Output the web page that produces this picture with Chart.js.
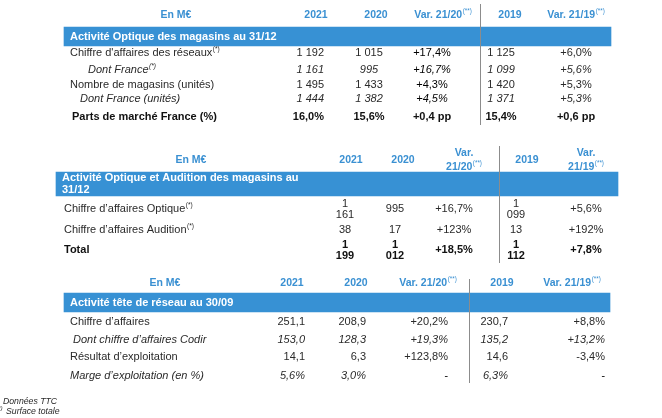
<!DOCTYPE html>
<html lang="fr">
<head>
<meta charset="utf-8">
<title>Activité des magasins</title>
<script src="https://cdn.jsdelivr.net/npm/chart.js@4.4.1/dist/chart.umd.min.js"></script>
<style>
  html, body { margin: 0; padding: 0; background: #fff; }
  #wrap { width: 662px; height: 418px; }
</style>
</head>
<body>
<div id="wrap"><canvas id="table" width="662" height="418"></canvas></div>
<script>
// headers shared by the three blocks
var unitLabel = 'En M€';
var colHeads = ['2021', '2020', 'Var. 21/20', '2019', 'Var. 21/19'];
var colNotes = ['', '', '(**)', '', '(**)'];

// bloc 1 - optique
var t1Title = 'Activité Optique des magasins au 31/12';
var t1Rows = ['Chiffre d\'affaires des réseaux', 'Dont France', 'Nombre de magasins (unités)', 'Dont France (unités)', 'Parts de marché France (%)'];
var t1Notes = ['(*)', '(*)', '', '', ''];
var t1Y2021 = ['1 192', '1 161', '1 495', '1 444', '16,0%'];
var t1Y2020 = ['1 015', '995', '1 433', '1 382', '15,6%'];
var t1Var2120 = ['+17,4%', '+16,7%', '+4,3%', '+4,5%', '+0,4 pp'];
var t1Y2019 = ['1 125', '1 099', '1 420', '1 371', '15,4%'];
var t1Var2119 = ['+6,0%', '+5,6%', '+5,3%', '+5,3%', '+0,6 pp'];

// bloc 2 - optique et audition
var t2Title = 'Activité Optique et Audition des magasins au 31/12';
var t2Rows = ['Chiffre d’affaires Optique', 'Chiffre d’affaires Audition', 'Total'];
var t2Notes = ['(*)', '(*)', ''];
var t2Y2021 = ['1 161', '38', '1 199'];
var t2Y2020 = ['995', '17', '1 012'];
var t2Var2120 = ['+16,7%', '+123%', '+18,5%'];
var t2Y2019 = ['1 099', '13', '1 112'];
var t2Var2119 = ['+5,6%', '+192%', '+7,8%'];

// bloc 3 - tete de reseau
var t3Title = 'Activité tête de réseau au 30/09';
var t3Rows = ['Chiffre d’affaires', ' Dont chiffre d’affaires Codir', 'Résultat d’exploitation', 'Marge d’exploitation (en %)'];
var t3Notes = ['', '', '', ''];
var t3Y2021 = ['251,1', '153,0', '14,1', '5,6%'];
var t3Y2020 = ['208,9', '128,3', '6,3', '3,0%'];
var t3Var2120 = ['+20,2%', '+19,3%', '+123,8%', '-'];
var t3Y2019 = ['230,7', '135,2', '14,6', '6,3%'];
var t3Var2119 = ['+8,8%', '+13,2%', '-3,4%', '-'];

var footNotes = ['Données TTC', 'Surface totale'];
var footMarks = ['(*)', '(**)'];

var BLUE = '#3791d4';
var HEAD_BLUE = '#3a90d2';
var INK = '#2a2a2a';
var FONT = '"Liberation Sans", Arial, Helvetica, sans-serif';

// page layout, in canvas units
var blocks = [
    {
        title: t1Title, rows: t1Rows, notes: t1Notes,
        cols: [t1Y2021, t1Y2020, t1Var2120, t1Y2019, t1Var2119],
        headY: 15, unitX: 176, headX: [316, 376, 443, 510, 576], headWrap: false,
        band: { x0: 64, x1: 611, y: 36.5, h: 19 }, titleX: 70, titleWrap: 0,
        rowY: [53, 70, 84.5, 99, 117],
        labelX: [70, 88, 70, 80, 72],
        styles: ['normal', 'italic', 'normal', 'italic', 'bold'],
        valX: [324, 369, 432, 501, 576],
        valAlign: ['right', 'center', 'center', 'center', 'center'],
        valInk: [INK, INK, '#000000', INK, INK],
        valWrap: false,
        divider: { x: 480.5, y0: 4, y1: 125 }
    },
    {
        title: t2Title, rows: t2Rows, notes: t2Notes,
        cols: [t2Y2021, t2Y2020, t2Var2120, t2Y2019, t2Var2119],
        headY: 160, unitX: 191, headX: [351, 403, 464, 527, 586], headWrap: true,
        band: { x0: 56, x1: 618, y: 184, h: 24 }, titleX: 62, titleWrap: 250,
        rowY: [209, 230, 250],
        labelX: [64, 64, 64],
        styles: ['normal', 'normal', 'bold'],
        valX: [345, 395, 454, 516, 586],
        valAlign: ['center', 'center', 'center', 'center', 'center'],
        valInk: [INK, INK, INK, INK, INK],
        valWrap: true,
        divider: { x: 499.5, y0: 146, y1: 263 }
    },
    {
        title: t3Title, rows: t3Rows, notes: t3Notes,
        cols: [t3Y2021, t3Y2020, t3Var2120, t3Y2019, t3Var2119],
        headY: 283.5, unitX: 165, headX: [292, 356, 428, 502, 572], headWrap: false,
        band: { x0: 64, x1: 610, y: 302.5, h: 19 }, titleX: 70, titleWrap: 0,
        rowY: [322, 339.5, 357, 375.5],
        labelX: [70, 70, 70, 70],
        styles: ['normal', 'italic', 'normal', 'italic'],
        valX: [305, 366, 448, 508, 605],
        valAlign: ['right', 'right', 'right', 'right', 'right'],
        valInk: [INK, INK, INK, INK, INK],
        valWrap: false,
        divider: { x: 469.5, y0: 279, y1: 383 }
    }
];

function font(size, style) {
    var it = style === 'italic' ? 'italic ' : '';
    var bd = style === 'bold' ? 'bold ' : '';
    return it + bd + size + 'px ' + FONT;
}

// text with an optional raised note like (*)
function put(ctx, text, note, x, y, align, size, style, color) {
    ctx.font = font(size, style);
    var w = ctx.measureText(text).width;
    var noteFont = font(size * 0.6, style === 'bold' ? 'normal' : style);
    var nw = 0;
    if (note) {
        ctx.font = noteFont;
        nw = ctx.measureText(note).width + 0.5;
    }
    var left = x;
    if (align === 'right') left = x - w - nw;
    if (align === 'center') left = x - (w + nw) / 2;
    ctx.fillStyle = color;
    ctx.textAlign = 'left';
    ctx.textBaseline = 'middle';
    ctx.font = font(size, style);
    ctx.fillText(text, left, y);
    if (note) {
        ctx.font = noteFont;
        ctx.fillText(note, left + w + 0.5, y - 4);
    }
}

var tablePlugin = {
    id: 'tableText',
    afterDatasetsDraw: function (chart) {
        var ctx = chart.ctx;
        var sx = chart.scales.x, sy = chart.scales.y;
        var px = function (v) { return sx.getPixelForValue(v); };
        var py = function (v) { return sy.getPixelForValue(v); };
        ctx.save();

        blocks.forEach(function (b) {
            // column headers
            put(ctx, unitLabel, '', px(b.unitX), py(b.headY), 'center', 10.5, 'bold', HEAD_BLUE);
            colHeads.forEach(function (h, i) {
                if (b.headWrap && h.indexOf(' ') > 0) {
                    var parts = h.split(' ');
                    put(ctx, parts[0], '', px(b.headX[i]), py(b.headY - 7), 'center', 10.5, 'bold', HEAD_BLUE);
                    put(ctx, parts[1], colNotes[i], px(b.headX[i]), py(b.headY + 7), 'center', 10.5, 'bold', HEAD_BLUE);
                } else {
                    put(ctx, h, colNotes[i], px(b.headX[i]), py(b.headY), 'center', 10.5, 'bold', HEAD_BLUE);
                }
            });

            // title inside the blue band
            ctx.font = font(11, 'bold');
            var lines = [b.title];
            if (b.titleWrap && ctx.measureText(b.title).width > b.titleWrap) {
                var words = b.title.split(' ');
                var first = '';
                while (words.length && ctx.measureText(first + ' ' + words[0]).width < b.titleWrap) {
                    first += (first ? ' ' : '') + words.shift();
                }
                lines = [first, words.join(' ')];
            }
            lines.forEach(function (ln, k) {
                var off = (k - (lines.length - 1) / 2) * 12;
                put(ctx, ln, '', px(b.titleX), py(b.band.y + off), 'left', 11, 'bold', '#ffffff');
            });

            // body rows
            b.rows.forEach(function (label, r) {
                var st = b.styles[r];
                var bold = st === 'bold';
                put(ctx, label, b.notes[r], px(b.labelX[r]), py(b.rowY[r]), 'left', 11, st, bold ? '#111111' : INK);
                b.cols.forEach(function (col, c) {
                    var v = col[r];
                    var color = bold ? '#111111' : b.valInk[c];
                    var isVar = colHeads[c].indexOf('Var') === 0;
                    if (b.valWrap && !isVar && v.indexOf(' ') > 0) {
                        var p = v.split(' ');
                        put(ctx, p[0], '', px(b.valX[c]), py(b.rowY[r] - 5.5), b.valAlign[c], 11, st, color);
                        put(ctx, p[1], '', px(b.valX[c]), py(b.rowY[r] + 5.5), b.valAlign[c], 11, st, color);
                    } else {
                        put(ctx, v, '', px(b.valX[c]), py(b.rowY[r]), b.valAlign[c], 11, st, color);
                    }
                });
            });
        });

        // footnotes, cut at the left edge as in the source
        put(ctx, footMarks[0], '', px(-2), py(402), 'right', 8.7, 'italic', INK);
        put(ctx, footNotes[0], '', px(3), py(402), 'left', 8.7, 'italic', INK);
        put(ctx, footMarks[1], '', px(2.5), py(408.5), 'right', 5.5, 'italic', INK);
        put(ctx, footNotes[1], '', px(6), py(412), 'left', 8.7, 'italic', INK);

        ctx.restore();
    }
};

var datasets = [];
blocks.forEach(function (b) {
    datasets.push({
        type: 'bar',
        indexAxis: 'y',
        data: [{ x: [b.band.x0, b.band.x1], y: b.band.y }],
        backgroundColor: BLUE,
        borderWidth: 0,
        barThickness: b.band.h,
        grouped: false,
        order: 2
    });
});
blocks.forEach(function (b) {
    datasets.push({
        type: 'line',
        data: [{ x: b.divider.x, y: b.divider.y0 }, { x: b.divider.x, y: b.divider.y1 }],
        borderColor: '#8c8c8c',
        borderWidth: 1,
        pointRadius: 0,
        fill: false,
        order: 1
    });
});

new Chart(document.getElementById('table'), {
    type: 'bar',
    data: { datasets: datasets },
    options: {
        responsive: false,
        animation: false,
        events: [],
        layout: { padding: 0 },
        plugins: { legend: { display: false }, tooltip: { enabled: false } },
        scales: {
            x: { type: 'linear', min: 0, max: 662, offset: false, display: false },
            y: { type: 'linear', min: 0, max: 418, reverse: true, offset: false, display: false }
        }
    },
    plugins: [tablePlugin]
});
</script>
</body>
</html>
